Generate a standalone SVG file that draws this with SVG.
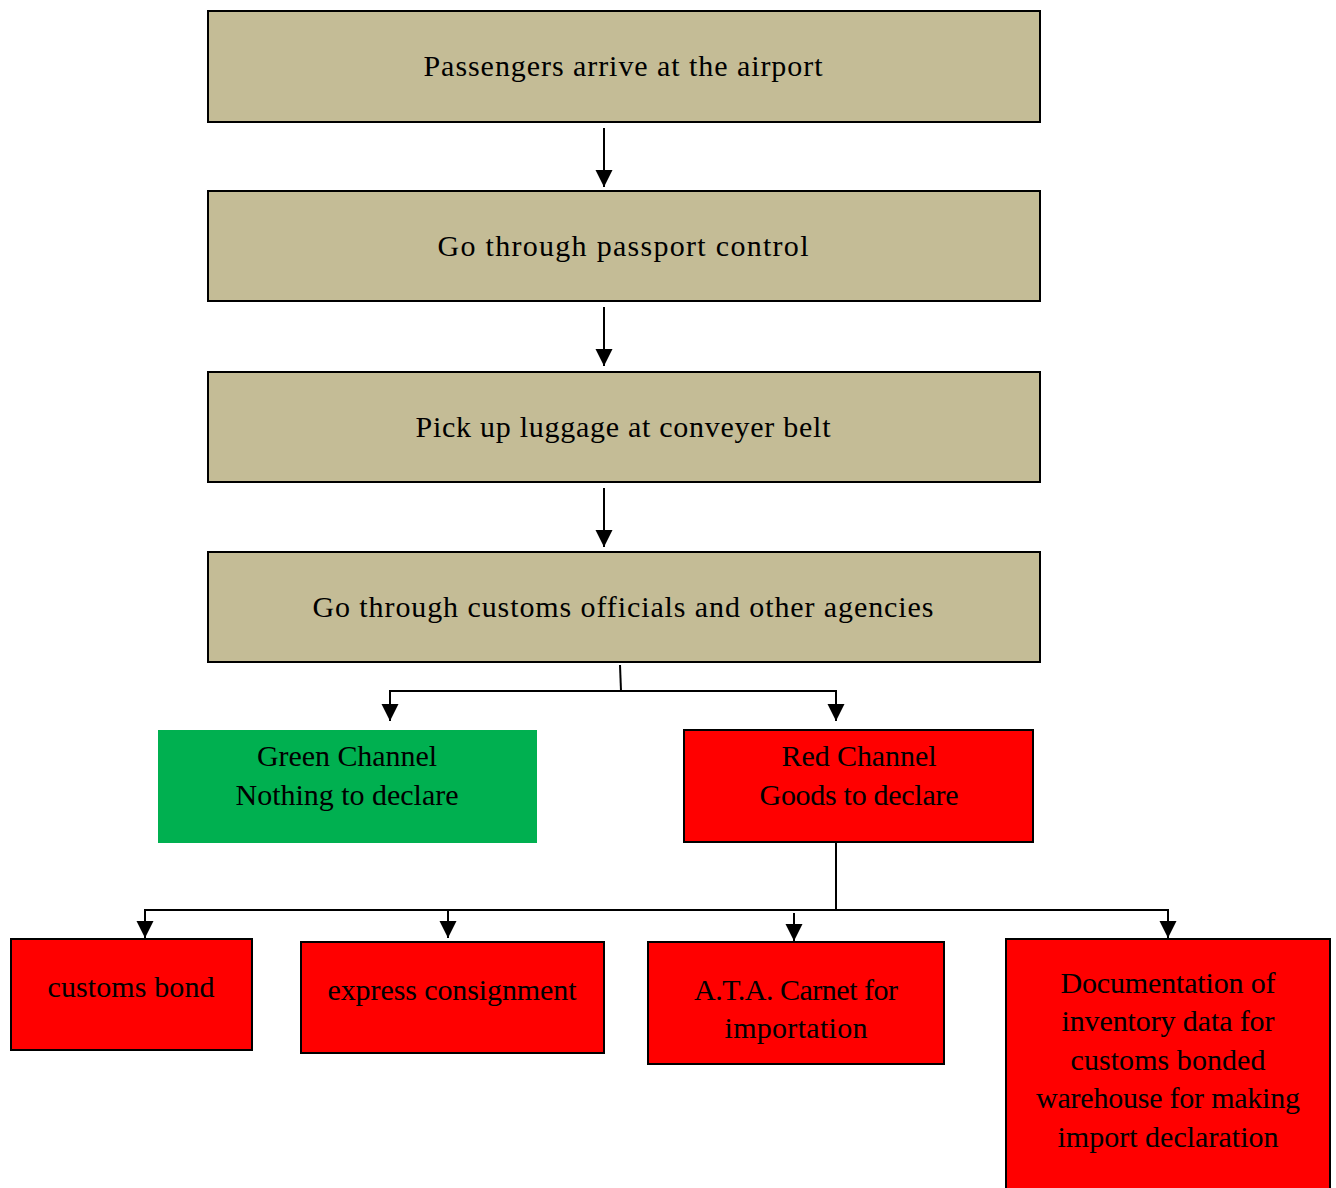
<svg xmlns="http://www.w3.org/2000/svg" width="1336" height="1188" viewBox="0 0 1336 1188">
<style>
.tan{fill:#C4BC96;stroke:#000;stroke-width:2}
.red{fill:#FF0000;stroke:#000;stroke-width:2}
.green{fill:#00B050}
text{font-family:"Liberation Serif","Times New Roman",serif;font-size:30px;fill:#000;text-anchor:middle}
.c{fill:none;stroke:#000;stroke-width:2}
</style>
<defs>
<marker id="ad" markerUnits="userSpaceOnUse" markerWidth="17" markerHeight="18" refX="18" refY="9" orient="auto" viewBox="0 0 18 18">
<path d="M0,0 L18,9 L0,18 Z" fill="#000"/>
</marker>
</defs>
<rect width="1336" height="1188" fill="#fff"/>
<g id="connectors">
<line class="c" x1="604" y1="128" x2="604" y2="187" marker-end="url(#ad)"/>
<line class="c" x1="604" y1="307" x2="604" y2="366" marker-end="url(#ad)"/>
<line class="c" x1="604" y1="488" x2="604" y2="547" marker-end="url(#ad)"/>
<polyline class="c" points="620,665 621,691"/>
<polyline class="c" points="621,691 390,691 390,721" marker-end="url(#ad)"/>
<polyline class="c" points="621,691 836,691 836,721" marker-end="url(#ad)"/>
<polyline class="c" points="836,843 836,910"/>
<polyline class="c" points="836,910 145,910 145,938" marker-end="url(#ad)"/>
<polyline class="c" points="448,910 448,938" marker-end="url(#ad)"/>
<polyline class="c" points="794,913 794,941" marker-end="url(#ad)"/>
<polyline class="c" points="836,910 1168,910 1168,938" marker-end="url(#ad)"/>
</g>
<g id="n1"><rect class="tan" x="208" y="11" width="832" height="111"/><text x="623" y="76" textLength="399">Passengers arrive at the airport</text></g>
<g id="n2"><rect class="tan" x="208" y="191" width="832" height="110"/><text x="623" y="256" textLength="371">Go through passport control</text></g>
<g id="n3"><rect class="tan" x="208" y="372" width="832" height="110"/><text x="623" y="437" textLength="415">Pick up luggage at conveyer belt</text></g>
<g id="n4"><rect class="tan" x="208" y="552" width="832" height="110"/><text x="623" y="617" textLength="621">Go through customs officials and other agencies</text></g>
<g id="green"><rect class="green" x="158" y="730" width="379" height="113"/><text x="347" y="766" textLength="180">Green Channel</text><text x="347" y="805" textLength="223">Nothing to declare</text></g>
<g id="redch"><rect class="red" x="684" y="730" width="349" height="112"/><text x="859" y="766" textLength="155">Red Channel</text><text x="859" y="805" textLength="199">Goods to declare</text></g>
<g id="b1"><rect class="red" x="11" y="939" width="241" height="111"/><text x="131" y="997" textLength="167">customs bond</text></g>
<g id="b2"><rect class="red" x="301" y="942" width="303" height="111"/><text x="452" y="1000" textLength="249">express consignment</text></g>
<g id="b3"><rect class="red" x="648" y="942" width="296" height="122"/><text x="796" y="1000" textLength="204">A.T.A. Carnet for</text><text x="796" y="1038" textLength="143">importation</text></g>
<g id="b4"><rect class="red" x="1006" y="939" width="324" height="252"/><text x="1168" y="993" textLength="215">Documentation of</text><text x="1168" y="1031" textLength="213">inventory data for</text><text x="1168" y="1070" textLength="195">customs bonded</text><text x="1168" y="1108" textLength="264">warehouse for making</text><text x="1168" y="1147" textLength="221">import declaration</text></g>
</svg>
